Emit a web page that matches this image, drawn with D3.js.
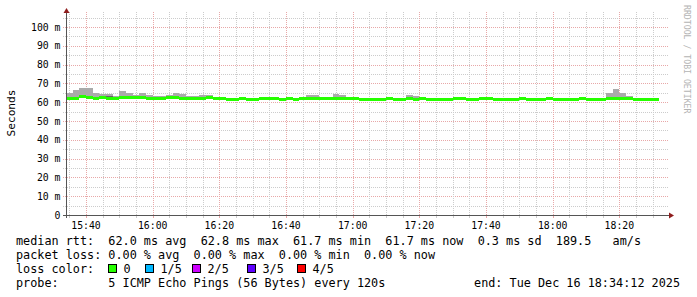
<!DOCTYPE html>
<html>
<head>
<meta charset="utf-8">
<script src="https://cdn.jsdelivr.net/npm/d3@7"></script>
<style>
  html, body { margin: 0; padding: 0; background: #fff; }
  svg { display: block; }
  text { font-family: "DejaVu Sans Mono", monospace; }
</style>
</head>
<body>
<svg id="chart" width="697" height="297"></svg>
<script>
// ---- data (values in ms) ----
const medianRtt = [
  62.2, 62.2, 62.8, 62.4, 61.9, 62.3, 62.2, 62.1, 62.7, 62.3,
  62.3, 62.7, 62.2, 61.9, 62.2, 62.6, 62.6, 62.2, 61.8, 61.8,
  62.2, 62.3, 62.2, 62.2, 61.7, 61.7, 61.8, 61.7, 61.7, 62.2,
  62.1, 62.2, 61.7, 61.8, 61.7, 62.2, 62.0, 61.9, 61.9, 61.8,
  62.1, 62.0, 62.0, 62.0, 61.7, 61.7, 61.7, 61.7, 62.2, 61.7,
  61.7, 61.8, 61.7, 62.2, 61.7, 61.7, 61.7, 61.7, 62.1, 62.2,
  61.7, 61.7, 62.2, 62.1, 61.7, 61.7, 61.7, 61.7, 61.8, 61.7,
  61.7, 61.7, 61.8, 61.7, 61.7, 61.7, 61.7, 61.8, 61.7, 61.7,
  61.7, 61.8, 62.1, 62.1, 62.1, 61.7, 61.7, 61.7, 61.7
];
const smokeMax = [
  65.0, 66.4, 67.8, 67.8, 65.0, 64.3, 64.3, 63.4, 66.2, 65.0,
  64.0, 65.0, 64.0, 63.4, 63.4, 64.0, 65.0, 64.5, 63.4, 63.2,
  63.6, 63.6, 62.5, 62.5, 62.0, 62.0, 62.1, 62.0, 62.0, 62.5,
  62.4, 62.5, 62.0, 62.1, 62.0, 62.5, 63.6, 63.6, 62.2, 62.1,
  64.2, 63.6, 62.3, 62.3, 62.0, 62.0, 62.0, 62.0, 62.5, 62.0,
  62.0, 63.6, 63.1, 62.5, 62.0, 62.0, 62.0, 62.0, 62.4, 62.5,
  62.0, 62.0, 62.5, 62.4, 62.0, 62.0, 62.0, 62.0, 62.1, 62.0,
  62.0, 62.0, 62.1, 62.0, 62.0, 62.0, 62.0, 62.1, 62.0, 62.0,
  62.0, 64.7, 66.8, 65.0, 63.1, 62.0, 62.0, 62.0, 62.0
];
// inner (darker) smoke that shows above the median
const darkSmokeSteps = ["15:44", "15:46"];
const darkSmokeTop = [63.5, 63.5];

const xTickLabels = ["15:40", "16:00", "16:20", "16:40", "17:00", "17:20", "17:40", "18:00", "18:20"];
const yTickValues = [0, 10, 20, 30, 40, 50, 60, 70, 80, 90, 100];
const yTickLabels = ["0", "10 m", "20 m", "30 m", "40 m", "50 m", "60 m", "70 m", "80 m", "90 m", "100 m"];

const lossLabels = ["0", "1/5", "2/5", "3/5", "4/5"];
const lossColors = ["#26ff00", "#00b8ff", "#ce00ff", "#5e00ff", "#ff0000"];

const legendLines = [
  "median rtt:  62.0 ms avg  62.8 ms max  61.7 ms min  61.7 ms now  0.3 ms sd  189.5   am/s",
  "packet loss: 0.00 % avg  0.00 % max  0.00 % min  0.00 % now"
];
const probeLine = "probe:       5 ICMP Echo Pings (56 Bytes) every 120s";
const endLine = "end: Tue Dec 16 18:34:12 2025";

// ---- layout ----
const day = (hm, s = 0) => {
  const [h, m] = hm.split(":").map(Number);
  return new Date(2025, 11, 16, h, m, s);
};
const start = day("15:34", 12), end = day("18:34", 12);
const stepStarts = d3.timeMinute.every(2).range(day("15:34"), day("18:32"));
const stepMs = 2 * 60 * 1000;

const x = d3.scaleTime().domain([start, end]).range([66.7, 666.7]);
const y = d3.scaleLinear().domain([0, 100]).range([215, 27]);
const plotLeft = 66.5, plotTop = 12, plotBottom = 215, plotRight = 667;

const svg = d3.select("#chart");
svg.append("rect").attr("width", 697).attr("height", 297).attr("fill", "#fff");

const MINOR = "#cccccc", MAJOR = "#e8a8a8", AXIS = "#555555", ARROW = "#8f1d1d";

// horizontal grid
const grid = svg.append("g").attr("shape-rendering", "crispEdges");
d3.range(5, 106, 5).forEach(v => {
  const major = v % 10 === 0;
  const yy = Math.round(y(v)) + 0.5;
  grid.append("line")
    .attr("x1", 63).attr("x2", 669).attr("y1", yy).attr("y2", yy)
    .attr("stroke", major ? MAJOR : MINOR)
    .attr("stroke-dasharray", "1,1");
});

// vertical grid (5 min minor, 20 min major)
d3.timeMinute.every(5).range(start, end).forEach(t => {
  const major = t.getMinutes() % 20 === 0;
  const xx = Math.round(x(t)) + 0.5;
  grid.append("line")
    .attr("x1", xx).attr("x2", xx).attr("y1", plotTop).attr("y2", plotBottom)
    .attr("stroke", major ? MAJOR : MINOR)
    .attr("stroke-dasharray", "1,1");
  grid.append("line")
    .attr("x1", xx).attr("x2", xx).attr("y1", plotBottom).attr("y2", plotBottom + 3)
    .attr("stroke", major ? MAJOR : MINOR);
});

// smoke
const clipX = v => Math.max(67, Math.min(plotRight, v));
const marks = svg.append("g").attr("shape-rendering", "crispEdges");
marks.selectAll("rect.smoke")
  .data(stepStarts)
  .enter().append("rect")
  .attr("class", "smoke")
  .attr("x", d => clipX(x(d)))
  .attr("width", d => clipX(x(new Date(+d + stepMs))) - clipX(x(d)))
  .attr("y", (d, i) => y(smokeMax[i]))
  .attr("height", (d, i) => Math.max(0, y(medianRtt[i]) - y(smokeMax[i])))
  .attr("fill", "#aaaaaa");

marks.selectAll("rect.dark")
  .data(darkSmokeSteps)
  .enter().append("rect")
  .attr("class", "dark")
  .attr("x", d => x(day(d)))
  .attr("width", d => x(new Date(+day(d) + stepMs)) - x(day(d)))
  .attr("y", (d, i) => y(darkSmokeTop[i]))
  .attr("height", (d, i) => {
    const idx = stepStarts.findIndex(s => +s === +day(d));
    return Math.max(0, y(medianRtt[idx]) - y(darkSmokeTop[i]));
  })
  .attr("fill", "#666666");

// median band
marks.selectAll("rect.median")
  .data(stepStarts)
  .enter().append("rect")
  .attr("class", "median")
  .attr("x", d => clipX(x(d)))
  .attr("width", d => clipX(x(new Date(+d + stepMs))) - clipX(x(d)))
  .attr("y", (d, i) => y(medianRtt[i]) - 1.5)
  .attr("height", 3)
  .attr("fill", lossColors[0]);

// axes
const axes = svg.append("g").attr("shape-rendering", "crispEdges");
axes.append("line").attr("x1", 63).attr("x2", 670).attr("y1", 215.5).attr("y2", 215.5)
  .attr("stroke", AXIS);
axes.append("line").attr("x1", plotLeft).attr("x2", plotLeft).attr("y1", 218).attr("y2", 11)
  .attr("stroke", AXIS);
svg.append("path").attr("d", "M669,212.5 L674,215.5 L669,218.5 Z").attr("fill", ARROW);
svg.append("path").attr("d", "M63.5,13 L66.5,8 L69.5,13 Z").attr("fill", ARROW);

// tick labels
svg.append("g").selectAll("text")
  .data(xTickLabels)
  .enter().append("text")
  .attr("x", d => x(day(d)))
  .attr("y", 229)
  .attr("text-anchor", "middle")
  .attr("font-size", "9.8px")
  .attr("fill", "#000")
  .text(d => d);

svg.append("g").selectAll("text")
  .data(yTickValues)
  .enter().append("text")
  .attr("x", 60.5)
  .attr("y", d => y(d) + 3.5)
  .attr("text-anchor", "end")
  .attr("font-size", "9.8px")
  .attr("fill", "#000")
  .text((d, i) => yTickLabels[i]);

svg.append("text")
  .attr("transform", "translate(15,113) rotate(-90)")
  .attr("text-anchor", "middle")
  .attr("font-size", "11.2px")
  .attr("fill", "#000")
  .text("Seconds");

svg.append("text")
  .attr("transform", "translate(684,5) rotate(90)")
  .attr("font-size", "8.2px")
  .attr("fill", "#b4b4b4")
  .text("RRDTOOL / TOBI OETIKER");

// legend
const legendFont = "11.8px";
legendLines.forEach((line, i) => {
  svg.append("text")
    .attr("x", 16).attr("y", 245 + i * 14)
    .attr("font-size", legendFont)
    .attr("xml:space", "preserve")
    .style("white-space", "pre")
    .text(line);
});
svg.append("text")
  .attr("x", 16).attr("y", 273)
  .attr("font-size", legendFont)
  .text("loss color:");
const lossBoxX = [108.5, 145.5, 192.5, 247.5, 297.5];
lossLabels.forEach((lab, i) => {
  svg.append("rect")
    .attr("x", lossBoxX[i]).attr("y", 264.5)
    .attr("width", 8).attr("height", 8)
    .attr("fill", lossColors[i])
    .attr("stroke", "#000").attr("stroke-width", 1);
  svg.append("text")
    .attr("x", lossBoxX[i] + 15).attr("y", 273)
    .attr("font-size", legendFont)
    .text(lab);
});
svg.append("text")
  .attr("x", 16).attr("y", 287)
  .attr("font-size", legendFont)
  .style("white-space", "pre")
  .text(probeLine);
svg.append("text")
  .attr("x", 680).attr("y", 287)
  .attr("text-anchor", "end")
  .attr("font-size", legendFont)
  .text(endLine);
</script>
</body>
</html>
